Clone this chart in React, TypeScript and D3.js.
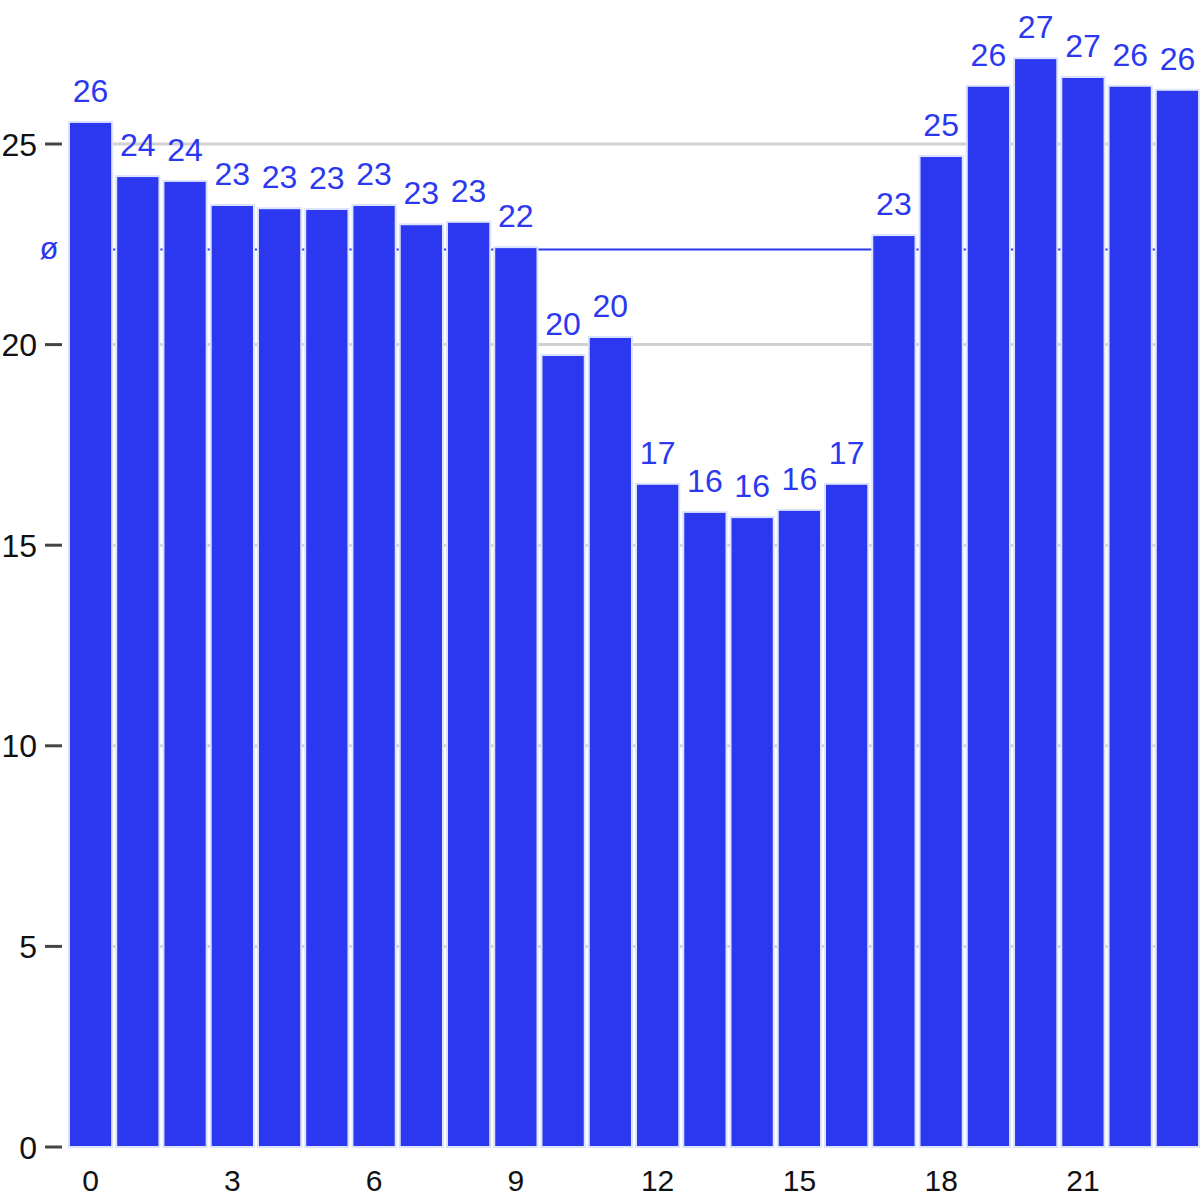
import React from "react";
import * as d3 from "d3";

const hours: number[] = Array.from({ length: 24 }, (_, i) => i);
const values: number[] = [
  25.55, 24.2, 24.08, 23.48, 23.4, 23.38, 23.48, 23.0, 23.06, 22.43,
  19.74, 20.19, 16.53, 15.83, 15.7, 15.88, 16.53,
  22.73, 24.7, 26.45, 27.14, 26.67, 26.45, 26.35,
];
const yTicks: number[] = [0, 5, 10, 15, 20, 25];
const xTicks: number[] = [0, 3, 6, 9, 12, 15, 18, 21];

const W = 1200;
const H = 1200;
const left = 68;
const right = 1200;
const bottom = 1147;
const top = 144;

export default function App() {
  const x = d3.scaleBand<number>().domain(hours).range([left, right]).paddingInner(0.085).paddingOuter(0.02);
  const y = d3.scaleLinear().domain([0, 25]).range([bottom, top]);
  const mean = d3.mean(values) as number;
  const blue = "#2b38f0";
  const font = "Liberation Sans, Arial, sans-serif";
  return (
    <svg width={W} height={H} style={{ position: "absolute", left: 0, top: 0 }} fontFamily={font}>
      <rect width={W} height={H} fill="#fff" />
      {yTicks.filter((t) => t > 0).map((t) => (
        <line key={"g" + t} x1={left} x2={right} y1={y(t)} y2={y(t)} stroke="#d0d0d0" strokeWidth={3} />
      ))}
      <line x1={left} x2={right} y1={y(mean)} y2={y(mean)} stroke={blue} strokeWidth={2} />
      <text x={49} y={y(mean)} dy="0.3em" textAnchor="middle" fontSize={31} fill={blue}>ø</text>
      {values.map((v, i) => (
        <rect key={i} x={x(i)} y={y(v)} width={x.bandwidth()} height={bottom - y(v)} fill={blue} stroke="#dce3ff" strokeWidth={2} />
      ))}
      {values.map((v, i) => (
        <text key={"l" + i} x={(x(i) as number) + x.bandwidth() / 2} y={y(v) - 20} textAnchor="middle" fontSize={32} fill={blue}>
          {Math.round(v)}
        </text>
      ))}
      {yTicks.map((t) => (
        <g key={"t" + t}>
          <line x1={45} x2={62} y1={y(t)} y2={y(t)} stroke="#444" strokeWidth={3} />
          <text x={37} y={y(t)} dy="0.36em" textAnchor="end" fontSize={32} fill="#111">{t}</text>
        </g>
      ))}
      {xTicks.map((t) => (
        <text key={"x" + t} x={(x(t) as number) + x.bandwidth() / 2} y={1191} textAnchor="middle" fontSize={30} fill="#111">{t}</text>
      ))}
    </svg>
  );
}
